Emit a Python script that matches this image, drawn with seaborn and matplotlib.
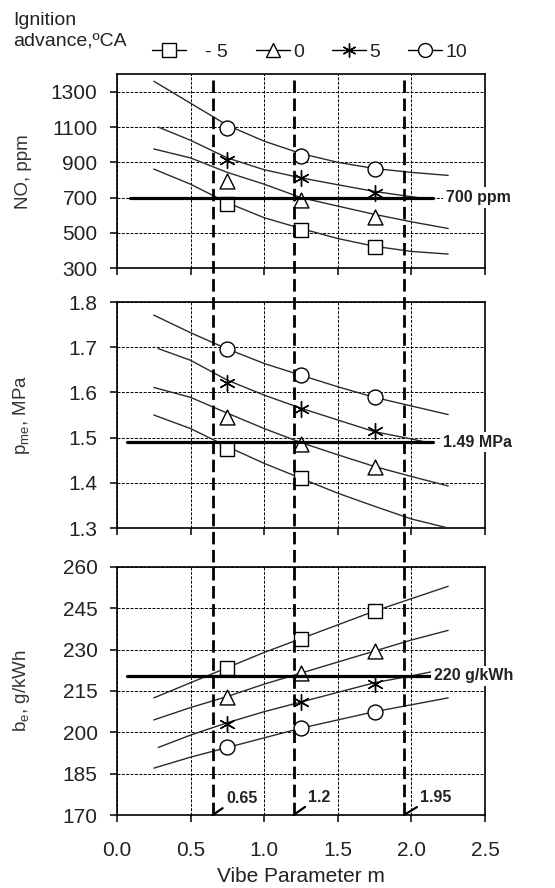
import numpy as np
import pandas as pd
import matplotlib
matplotlib.use("Agg")
import matplotlib.pyplot as plt
import matplotlib.transforms as mtransforms
from matplotlib.lines import Line2D
from matplotlib.ticker import FormatStrFormatter
import seaborn as sns

# valeurs
advance = ["- 5", "0", "5", "10"]
m_curve = [0.25, 0.5, 0.75, 1.0, 1.25, 1.5, 1.75, 2.0, 2.25]
m_curve_5 = [0.28, 0.5, 0.75, 1.0, 1.25, 1.5, 1.75, 2.0, 2.14]
m_points = [0.75, 1.25, 1.75]
m_limits = [0.65, 1.2, 1.95]
limit_labels = ["0.65", "1.2", "1.95"]

# NO, ppm
no_curve_m5 = [862, 776, 671, 586, 525, 468, 424, 395, 380]
no_curve_0 = [976, 925, 843, 776, 700, 652, 605, 563, 525]
no_curve_5 = [1100, 1025, 925, 858, 812, 773, 735, 705, 690]
no_curve_10 = [1360, 1235, 1110, 1020, 950, 900, 865, 843, 826]
no_pts_m5 = [662, 519, 420]
no_pts_0 = [797, 685, 591]
no_pts_5 = [913, 810, 729]
no_pts_10 = [1096, 938, 860]
no_limit = 700

# pme, MPa
pme_curve_m5 = [1.55, 1.52, 1.48, 1.443, 1.41, 1.377, 1.348, 1.32, 1.30]
pme_curve_0 = [1.611, 1.589, 1.554, 1.52, 1.489, 1.462, 1.436, 1.414, 1.393]
pme_curve_5 = [1.697, 1.671, 1.627, 1.594, 1.565, 1.539, 1.513, 1.497, 1.487]
pme_curve_10 = [1.771, 1.732, 1.696, 1.664, 1.638, 1.6125, 1.589, 1.570, 1.551]
pme_pts_m5 = [1.474, 1.410, np.nan]
pme_pts_0 = [1.546, 1.486, 1.436]
pme_pts_5 = [1.620, 1.5625, 1.515]
pme_pts_10 = [1.696, 1.638, 1.589]
pme_limit = 1.49

# be, g/kWh
be_curve_m5 = [212.5, 218, 223.5, 229, 234, 239, 244, 248.5, 253]
be_curve_0 = [204.5, 209, 213, 217.5, 221.5, 225.5, 229.5, 233.5, 237]
be_curve_5 = [194.5, 199, 203.5, 207.5, 211, 214.5, 218, 220.5, 222]
be_curve_10 = [187, 191, 194.5, 198, 201.5, 204.5, 207.5, 210, 212.5]
be_pts_m5 = [223.5, 234, 244]
be_pts_0 = [213, 221.5, 229.5]
be_pts_5 = [203, 211, 217.5]
be_pts_10 = [194.5, 201.5, 207.5]
be_limit = 220.5

sns.set_style("white")
plt.rcParams["font.family"] = ["Liberation Sans", "DejaVu Sans"]
plt.rcParams["mathtext.fontset"] = "custom"
plt.rcParams["mathtext.rm"] = "Liberation Sans"
plt.rcParams["mathtext.it"] = "Liberation Sans:italic"

TXT = "#222222"
markers = {"- 5": "s", "0": "^", "5": (6, 2, 0), "10": "o"}

fig = plt.figure(figsize=(5.55, 8.88), dpi=100)
left, width = 0.2108, 0.663
ax_no = fig.add_axes([left, 0.698, width, 0.2185])
ax_pme = fig.add_axes([left, 0.4054, width, 0.2545])
ax_be = fig.add_axes([left, 0.0822, width, 0.2793])


def panel(ax, curves, points, ylim, yticks, fmt, ylabel, limit, lim_x, lim_label, lab_x):
    for name, cv, pv in zip(advance, curves, points):
        xs = m_curve_5 if name == "5" else m_curve
        sns.lineplot(x=xs, y=cv, ax=ax, color="#2b2b2b", lw=1.0, zorder=3,
                     estimator=None, sort=False)
        if name == "5":
            sns.scatterplot(x=m_points, y=pv, ax=ax, marker=markers[name], s=130,
                            color="black", linewidth=1.0, zorder=6)
        else:
            sns.scatterplot(x=m_points, y=pv, ax=ax, marker=markers[name], s=115,
                            color="white", edgecolor="black", linewidth=1.0, zorder=6)
    # ligne de limite
    sns.lineplot(x=lim_x, y=[limit, limit], ax=ax, color="black", lw=2.3, zorder=7)
    ax.text(lab_x, limit, lim_label, fontsize=11.5, fontweight="bold", color=TXT,
            ha="left", va="center", zorder=20, clip_on=False,
            bbox=dict(fc="white", ec="none", pad=2))

    ax.set_xlim(0, 2.5)
    ax.set_ylim(*ylim)
    ax.set_xticks([0, 0.5, 1.0, 1.5, 2.0, 2.5])
    ax.set_yticks(yticks)
    ax.yaxis.set_major_formatter(FormatStrFormatter(fmt))
    ax.xaxis.set_major_formatter(FormatStrFormatter("%.1f"))
    ax.grid(True, color="black", lw=0.7, ls=(0, (3, 1.5)))
    ax.set_axisbelow(True)
    for sp in ax.spines.values():
        sp.set_color("black")
        sp.set_linewidth(1.2)
    ax.tick_params(direction="out", length=5, width=1.1, color="black",
                   labelsize=15, labelcolor=TXT, left=True, bottom=True)
    ax.tick_params(axis="y", pad=9)
    ax.tick_params(axis="x", pad=14)
    ax.set_ylabel(ylabel, fontsize=13.5, color="#333333")
    ax.yaxis.set_label_coords(-0.232, 0.5)
    ax.set_xlabel("")


panel(ax_no, [no_curve_m5, no_curve_0, no_curve_5, no_curve_10],
      [no_pts_m5, no_pts_0, no_pts_5, no_pts_10],
      (300, 1400), [300, 500, 700, 900, 1100, 1300], "%d", "NO, ppm",
      no_limit, [0.09, 2.15], "700 ppm", 2.235)
panel(ax_pme, [pme_curve_m5, pme_curve_0, pme_curve_5, pme_curve_10],
      [pme_pts_m5, pme_pts_0, pme_pts_5, pme_pts_10],
      (1.3, 1.8), [1.3, 1.4, 1.5, 1.6, 1.7, 1.8], "%.1f", r"p$_{\rm me}$, MPa",
      pme_limit, [0.07, 2.15], "1.49 MPa", 2.215)
panel(ax_be, [be_curve_m5, be_curve_0, be_curve_5, be_curve_10],
      [be_pts_m5, be_pts_0, be_pts_5, be_pts_10],
      (170, 260), [170, 185, 200, 215, 230, 245, 260], "%d", r"b$_{\rm e}$, g/kWh",
      be_limit, [0.07, 2.13], "220 g/kWh", 2.155)

ax_no.tick_params(labelbottom=False)
ax_pme.tick_params(labelbottom=False)
ax_be.set_xlabel("Vibe Parameter m", fontsize=15, color=TXT, labelpad=5)

# lignes verticales en tirets qui traversent les trois graphes
trans = mtransforms.blended_transform_factory(ax_be.transData, fig.transFigure)
for xv in m_limits:
    fig.add_artist(Line2D([xv, xv], [0.91, 0.0822], transform=trans, color="black",
                          lw=2.0, ls=(0, (4.5, 2)), zorder=10))

# étiquettes des limites en bas
for xv, lab, dx, dy in zip(m_limits, limit_labels, [0.09, 0.1, 0.11], [3.3, 3.8, 3.6]):
    ax_be.annotate(lab, xy=(xv, 170), xytext=(xv + dx, 170 + dy), fontsize=11.5,
                   fontweight="bold", color=TXT, ha="left", va="bottom", zorder=20,
                   annotation_clip=False,
                   arrowprops=dict(arrowstyle="-", lw=1.6, color="black",
                                   relpos=(0, 0), shrinkA=0, shrinkB=0))

# légende
handles = [Line2D([], [], color="black", lw=1.0, marker=markers[n], markersize=10,
                  markerfacecolor="white", markeredgecolor="black", markeredgewidth=1.0)
           for n in advance]
leg_labels = ["   - 5", "0", "5", "10"]
fig.legend(handles, leg_labels, loc="center left", bbox_to_anchor=(0.273, 0.9414),
           ncol=4, frameon=False, handlelength=1.75, handletextpad=0.2,
           columnspacing=1.4, fontsize=14, borderaxespad=0, borderpad=0,
           labelcolor=TXT)
fig.text(0.0234, 0.987, "Ignition\nadvance,ºCA", fontsize=14, color=TXT,
         ha="left", va="top", linespacing=1.3)

fig.savefig("out.png", dpi=100)
